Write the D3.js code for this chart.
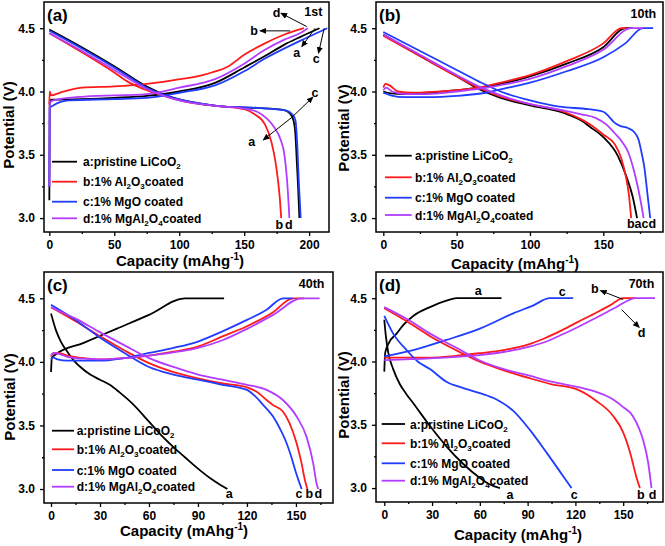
<!DOCTYPE html>
<html>
<head>
<meta charset="utf-8">
<script src="https://cdn.jsdelivr.net/npm/d3@7"></script>
<style>
  body { margin: 0; background: #fff; }
  text { font-family: 'Liberation Sans', Arial, sans-serif; font-weight: bold; }
</style>
</head>
<body>
<script>
// ---- data: [capacity mAh/g, potential V] ----
// 1st cycle
const c1a_chg = [[0,3.14],[0.3,3.92],[2,3.935],[25,3.94],[50,3.95],[75,3.965],[100,4.0],[128,4.07],[150,4.19],[166,4.28],[181,4.37],[193,4.43],[208,4.5]];
const c1b_chg = [[0,3.9],[0.3,4.0],[1.5,3.97],[8,3.99],[25,4.03],[50,4.04],[75,4.06],[96,4.09],[118,4.13],[125,4.15],[138,4.2],[150,4.29],[166,4.38],[181,4.45],[196,4.5]];
const c1c_chg = [[0,3.25],[0.3,3.87],[3,3.89],[15,3.93],[50,3.94],[75,3.95],[100,3.99],[128,4.05],[150,4.16],[166,4.26],[193,4.4],[214,4.5]];
const c1d_chg = [[0,3.25],[0.3,3.91],[3,3.93],[27,3.96],[75,3.98],[100,4.03],[128,4.1],[150,4.22],[166,4.33],[181,4.41],[193,4.46],[199,4.5]];
const c1a_dis = [[0,4.49],[25,4.35],[50,4.2],[75,4.04],[90,3.97],[110,3.915],[130,3.885],[160,3.87],[180,3.855],[185,3.83],[188,3.77],[189.5,3.65],[190.5,3.45],[191.5,3.25],[192.5,3.0]];
const c1b_dis = [[0,4.46],[25,4.31],[50,4.15],[60,4.08],[75,4.01],[90,3.96],[110,3.91],[130,3.885],[150,3.86],[158,3.82],[166,3.74],[171,3.6],[174,3.45],[176,3.3],[177.5,3.15],[178.5,3.0]];
const c1c_dis = [[0,4.48],[25,4.34],[50,4.19],[75,4.03],[90,3.965],[110,3.915],[130,3.885],[160,3.87],[182,3.85],[187,3.82],[189.5,3.77],[191,3.55],[192,3.3],[193.5,3.0]];
const c1d_dis = [[0,4.46],[25,4.32],[50,4.17],[75,4.02],[90,3.96],[110,3.91],[130,3.885],[150,3.865],[160,3.84],[167,3.79],[173,3.72],[178,3.62],[181,3.5],[183,3.3],[184,3.15],[184.8,3.0]];

// 10th cycle
const c10a_chg = [[0,4.0],[5,3.985],[15,3.98],[30,3.99],[50,4.01],[65,4.03],[80,4.06],[100,4.12],[125,4.22],[150,4.35],[165,4.5],[170,4.5]];
const c10b_chg = [[0,4.03],[1.5,4.06],[4,4.05],[10,4.0],[20,3.99],[30,3.995],[50,4.01],[65,4.03],[80,4.07],[100,4.13],[125,4.24],[150,4.38],[162.5,4.5],[166,4.5]];
const c10c_chg = [[0,3.99],[5,3.97],[15,3.955],[30,3.955],[50,3.965],[70,3.99],[85,4.03],[100,4.07],[125,4.16],[150,4.27],[165,4.38],[177,4.5],[184,4.5]];
const c10d_chg = [[0,4.01],[2,4.03],[6,4.0],[15,3.98],[30,3.98],[50,4.0],[65,4.02],[80,4.05],[100,4.1],[125,4.2],[150,4.33],[169,4.5],[177,4.5]];
const c10a_dis = [[0,4.45],[25,4.28],[50,4.12],[65,4.02],[80,3.95],[100,3.89],[123,3.83],[135,3.77],[141,3.72],[150,3.64],[160,3.49],[166,3.32],[170,3.17],[173,3.0]];
const c10b_dis = [[0,4.44],[25,4.28],[50,4.12],[65,4.03],[80,3.96],[100,3.9],[123,3.84],[135,3.78],[141,3.74],[150,3.66],[158,3.58],[162,3.48],[165,3.35],[167.5,3.18],[169,3.0]];
const c10c_dis = [[0,4.47],[25,4.32],[50,4.17],[65,4.08],[80,4.0],[100,3.93],[120,3.88],[140,3.86],[150,3.84],[154,3.8],[157,3.76],[161,3.73],[167,3.71],[171,3.68],[174,3.62],[176,3.52],[178,3.4],[180,3.2],[181.5,3.05],[182,3.0]];
const c10d_dis = [[0,4.45],[25,4.29],[50,4.13],[65,4.04],[80,3.97],[100,3.9],[123,3.85],[135,3.82],[145,3.79],[152,3.74],[157,3.68],[163,3.6],[167,3.52],[171,3.37],[174,3.22],[176,3.1],[177.5,3.0]];

// 40th cycle
const c40a_chg = [[0,3.92],[0.5,4.03],[3,4.06],[20,4.15],[40,4.26],[60,4.37],[82,4.5],[106,4.5]];
const c40b_chg = [[0,4.04],[1,4.065],[4,4.07],[10,4.05],[20,4.03],[30,4.02],[45,4.03],[60,4.05],[75,4.08],[90,4.12],[105,4.2],[120,4.28],[136,4.39],[148,4.5],[155,4.5]];
const c40c_chg = [[0,4.02],[1,4.035],[4,4.02],[10,4.01],[30,4.01],[45,4.03],[60,4.07],[75,4.11],[90,4.16],[105,4.24],[120,4.33],[132,4.41],[142,4.5],[148,4.5]];
const c40d_chg = [[0,4.05],[1.5,4.07],[4,4.065],[10,4.04],[20,4.025],[30,4.02],[45,4.03],[60,4.05],[75,4.075],[90,4.11],[105,4.17],[120,4.26],[136,4.37],[153.5,4.5],[164.5,4.5]];
const c40a_dis = [[0,4.38],[3,4.25],[6,4.16],[10,4.08],[14,4.01],[18,3.96],[24,3.9],[30,3.86],[36,3.82],[42,3.76],[50,3.67],[60,3.53],[67,3.43],[75,3.33],[82,3.25],[90,3.16],[98,3.08],[104,3.03],[108,3.0]];
const c40b_dis = [[0,4.43],[15,4.32],[29,4.21],[45,4.09],[60,3.99],[75,3.92],[90,3.87],[105,3.83],[120,3.8],[126,3.765],[132,3.7],[136,3.66],[142,3.61],[146,3.52],[150.4,3.36],[153.5,3.2],[155.5,3.07],[157,3.0]];
const c40c_dis = [[0,4.45],[15,4.33],[29,4.2],[45,4.07],[60,3.96],[75,3.9],[90,3.86],[105,3.82],[120,3.78],[125,3.73],[130,3.66],[136,3.57],[140,3.48],[144,3.37],[147,3.26],[150,3.13],[153.5,3.0]];
const c40d_dis = [[0,4.43],[15,4.34],[29,4.24],[45,4.13],[60,4.03],[75,3.96],[90,3.9],[105,3.86],[120,3.82],[132,3.78],[142,3.7],[150.4,3.57],[156.5,3.41],[160.6,3.2],[162.7,3.04],[163.7,3.0]];

// 70th cycle
const c70a_chg = [[0,3.92],[0.6,4.07],[3,4.15],[7.7,4.22],[12,4.29],[18.2,4.36],[28.7,4.43],[39,4.48],[45.4,4.5],[73.6,4.5]];
const c70b_chg = [[0,4.03],[28.7,4.03],[45,4.045],[59.6,4.065],[75,4.09],[90.6,4.135],[100,4.18],[112,4.25],[122,4.315],[133,4.385],[142,4.445],[150,4.5],[158,4.5]];
const c70c_chg = [[0,4.04],[18.2,4.09],[39,4.17],[60,4.26],[81,4.38],[93,4.44],[104,4.5],[118.6,4.5]];
const c70d_chg = [[0,4.01],[28.7,4.025],[59.6,4.05],[75,4.075],[90.6,4.115],[100,4.15],[112,4.215],[122,4.275],[133,4.345],[145,4.425],[158,4.5],[170,4.5]];
const c70a_dis = [[0,4.33],[1,4.2],[2.5,4.07],[5.6,3.94],[9.8,3.82],[14,3.74],[18.2,3.67],[28.7,3.49],[39,3.33],[49.6,3.19],[60,3.08],[66,3.03],[72.6,3.0]];
const c70b_dis = [[0,4.42],[15,4.31],[28.7,4.2],[45,4.09],[59.6,4.0],[75,3.93],[90.6,3.87],[105,3.82],[121,3.78],[133,3.69],[143.7,3.57],[150,3.44],[155,3.25],[158,3.1],[160.5,3.0]];
const c70c_dis = [[0,4.36],[5.6,4.22],[14,4.09],[21,4.0],[28.7,3.94],[39,3.84],[49.6,3.79],[60,3.75],[70.5,3.7],[81,3.61],[91.4,3.46],[101.9,3.28],[112,3.1],[117.6,3.0]];
const c70d_dis = [[0,4.43],[15,4.33],[28.7,4.22],[45,4.11],[59.6,4.01],[75,3.94],[90.6,3.89],[105,3.84],[121,3.8],[133,3.76],[143.7,3.7],[150,3.64],[156,3.57],[160,3.47],[162.5,3.38],[165.7,3.2],[167,3.08],[167.8,3.0]];

// tick values
const yTicks = [3.0, 3.5, 4.0, 4.5];
const yMinor = [3.25, 3.75, 4.25];
const xTicksAB = [0, 50, 100, 150, 200];
const xMinorAB = [25, 75, 125, 175];
const xTicksCD = [0, 30, 60, 90, 120, 150];
const xMinorCD = [15, 45, 75, 105, 135, 165];

// legend: pieces [text, isSubscript]
const legendLabels = [
  [["a:pristine LiCoO", 0], ["2", 1]],
  [["b:1% Al", 0], ["2", 1], ["O", 0], ["3", 1], ["coated", 0]],
  [["c:1% MgO coated", 0]],
  [["d:1% MgAl", 0], ["2", 1], ["O", 0], ["4", 1], ["coated", 0]]
];
const colors = ["#000000", "#ff1a1a", "#1f3cff", "#b23cff"];

// annotations [capacity, V, text] and arrows [[cap, V], [cap, V]]
const notes1 = [[203.3, 4.597, "1st"], [175, 4.59, "d"], [157.6, 4.447, "b"], [190.5, 4.276, "a"], [205.4, 4.224, "c"],
                [204.6, 3.96, "c"], [155.8, 3.566, "a"], [177.1, 2.913, "b"], [184.3, 2.913, "d"]];
const arrows1 = [[[198.2, 4.513], [178.4, 4.618]], [[185.4, 4.479], [162.3, 4.479]], [[204.6, 4.5], [194.4, 4.355]],
                 [[211.6, 4.5], [207.2, 4.303]], [[186.9, 3.797], [202.8, 3.955]], [[186.9, 3.797], [164.8, 3.618]]];
const notes10 = [[177.3, 4.579, "10th"], [176.1, 2.924, "bacd"]];
const notes40 = [[159.6, 4.579, "40th"], [109.2, 2.93, "a"], [151.8, 2.93, "c"], [158.2, 2.93, "b"], [163.7, 2.93, "d"]];
const notes70 = [[161.5, 4.579, "70th"], [59, 4.526, "a"], [111.7, 4.52, "c"], [132.2, 4.54, "b"], [161.5, 4.19, "d"],
                 [78.9, 2.91, "a"], [119.2, 2.91, "c"], [161, 2.91, "b"], [168.4, 2.91, "d"]];
const arrows70 = [[[150, 4.49], [135.8, 4.56]], [[149, 4.41], [160, 4.27]]];

const W = 665, H = 546;
const yDomain = [2.89, 4.707];

const svg = d3.select("body").append("svg")
  .attr("width", W).attr("height", H)
  .attr("viewBox", [0, 0, W, H]);

svg.append("defs").append("marker")
  .attr("id", "arr")
  .attr("markerUnits", "userSpaceOnUse")
  .attr("markerWidth", 8).attr("markerHeight", 8)
  .attr("refX", 6).attr("refY", 3)
  .attr("orient", "auto")
  .append("path").attr("d", "M0,0L7,3L0,6Z").attr("fill", "#000");

const panels = [
  { left: 44, top: 2, right: 329, bottom: 232, xDomain: [-4.1, 215.3], xTicks: xTicksAB, xMinor: xMinorAB, tag: "(a)",
    curves: [[c1a_chg, c1a_dis], [c1b_chg, c1b_dis], [c1c_chg, c1c_dis], [c1d_chg, c1d_dis]],
    notes: notes1, arrows: arrows1, legend: { x1: 8, x2: 33, tx: 39, rows: [159.7, 179.7, 199.7, 216.3] },
    ytitle: { x: 14, y: 125 }, xtitle: { x: 180, y: 266 } },
  { left: 376, top: 2, right: 663, bottom: 232, xDomain: [-4.98, 190.7], xTicks: xTicksAB.slice(0, 4), xMinor: xMinorAB, tag: "(b)",
    curves: [[c10a_chg, c10a_dis], [c10b_chg, c10b_dis], [c10c_chg, c10c_dis], [c10d_chg, c10d_dis]],
    notes: notes10, arrows: [], legend: { x1: 9, x2: 35.7, tx: 39, rows: [153.7, 175.3, 195.7, 213] },
    ytitle: { x: 349, y: 128 }, xtitle: { x: 515, y: 269 } },
  { left: 44, top: 272, right: 333, bottom: 503, xDomain: [-4.3, 172.7], xTicks: xTicksCD, xMinor: xMinorCD, tag: "(c)",
    curves: [[c40a_chg, c40a_dis], [c40b_chg, c40b_dis], [c40c_chg, c40c_dis], [c40d_chg, c40d_dis]],
    notes: notes40, arrows: [], legend: { x1: 8, x2: 30, tx: 32.7, rows: [158.7, 177.3, 198, 214.7] },
    ytitle: { x: 15, y: 397 }, xtitle: { x: 184, y: 536 } },
  { left: 376, top: 272, right: 663, bottom: 502, xDomain: [-5.2, 175], xTicks: xTicksCD, xMinor: xMinorCD, tag: "(d)",
    curves: [[c70a_chg, c70a_dis], [c70b_chg, c70b_dis], [c70c_chg, c70c_dis], [c70d_chg, c70d_dis]],
    notes: notes70, arrows: arrows70, legend: { x1: 5.7, x2: 29, tx: 34, rows: [152, 171.3, 191.3, 208.7] },
    ytitle: { x: 349, y: 395 }, xtitle: { x: 518, y: 540 } }
];

function styleAxis(g) {
  g.select(".domain").remove();
  g.selectAll("line").attr("stroke", "#000").attr("stroke-width", 1.3);
  g.selectAll("text").attr("font-size", 12).attr("font-weight", "bold")
    .attr("font-family", "'Liberation Sans', Arial, sans-serif").attr("fill", "#000");
}

function drawPanel(p) {
  const x = d3.scaleLinear().domain(p.xDomain).range([p.left, p.right]);
  const y = d3.scaleLinear().domain(yDomain).range([p.bottom, p.top]);
  const g = svg.append("g");

  const line = d3.line()
    .x(d => x(d[0])).y(d => y(d[1]))
    .curve(d3.curveMonotoneX);

  p.curves.forEach((pair, i) => {
    pair.forEach(arr => {
      g.append("path")
        .attr("d", line(arr))
        .attr("fill", "none")
        .attr("stroke", colors[i])
        .attr("stroke-width", 1.8);
    });
  });

  // axes (outward ticks)
  g.append("g").attr("transform", `translate(0,${p.bottom})`)
    .call(d3.axisBottom(x).tickValues(p.xTicks).tickSize(4).tickPadding(4).tickFormat(d3.format("d")))
    .call(styleAxis);
  g.append("g").attr("transform", `translate(0,${p.bottom})`)
    .call(d3.axisBottom(x).tickValues(p.xMinor.filter(v => v < p.xDomain[1])).tickSize(2).tickFormat(""))
    .call(styleAxis);
  g.append("g").attr("transform", `translate(${p.left},0)`)
    .call(d3.axisLeft(y).tickValues(yTicks).tickSize(4).tickPadding(5).tickFormat(d3.format(".1f")))
    .call(styleAxis);
  g.append("g").attr("transform", `translate(${p.left},0)`)
    .call(d3.axisLeft(y).tickValues(yMinor).tickSize(2).tickFormat(""))
    .call(styleAxis);

  // frame
  g.append("rect")
    .attr("x", p.left).attr("y", p.top)
    .attr("width", p.right - p.left).attr("height", p.bottom - p.top)
    .attr("fill", "none").attr("stroke", "#000").attr("stroke-width", 1.5);

  // panel tag
  g.append("text").attr("x", p.left + 3).attr("y", p.top + 19)
    .attr("font-size", 17).text(p.tag);

  // legend
  legendLabels.forEach((pieces, i) => {
    const ly = p.top + p.legend.rows[i];
    g.append("line")
      .attr("x1", p.left + p.legend.x1).attr("x2", p.left + p.legend.x2)
      .attr("y1", ly).attr("y2", ly)
      .attr("stroke", colors[i]).attr("stroke-width", 1.8);
    const t = g.append("text").attr("x", p.left + p.legend.tx).attr("y", ly + 4.5).attr("font-size", 12);
    let shifted = false;
    pieces.forEach(([s, sub]) => {
      const ts = t.append("tspan").text(s);
      if (sub) { ts.attr("font-size", 8).attr("dy", 3); shifted = true; }
      else if (shifted) { ts.attr("dy", -3); shifted = false; }
    });
  });

  // annotations
  p.notes.forEach(([cx, cv, s]) => {
    g.append("text").attr("x", x(cx)).attr("y", y(cv))
      .attr("text-anchor", "middle").attr("font-size", 12.5).text(s);
  });
  p.arrows.forEach(([a, b]) => {
    g.append("line")
      .attr("x1", x(a[0])).attr("y1", y(a[1]))
      .attr("x2", x(b[0])).attr("y2", y(b[1]))
      .attr("stroke", "#000").attr("stroke-width", 1)
      .attr("marker-end", "url(#arr)");
  });

  // axis titles
  g.append("text")
    .attr("transform", `translate(${p.ytitle.x},${p.ytitle.y}) rotate(-90)`)
    .attr("text-anchor", "middle").attr("font-size", 15)
    .text("Potential (V)");
  const xt = g.append("text").attr("x", p.xtitle.x).attr("y", p.xtitle.y)
    .attr("text-anchor", "middle").attr("font-size", 15);
  xt.append("tspan").text("Capacity (mAhg");
  xt.append("tspan").attr("font-size", 10).attr("dy", -6).text("-1");
  xt.append("tspan").attr("dy", 6).text(")");
}

panels.forEach(drawPanel);
</script>
</body>
</html>
